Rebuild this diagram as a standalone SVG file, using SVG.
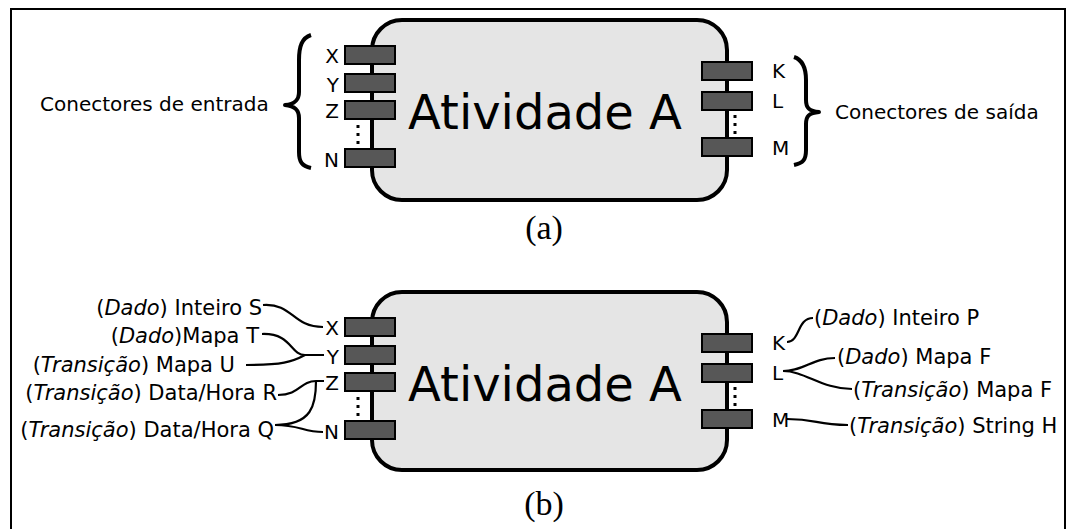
<svg xmlns="http://www.w3.org/2000/svg" width="1068" height="529" viewBox="0 0 1068 529">
<defs>
<style>
.frame{fill:#fff;stroke:#000;stroke-width:2}
.box{fill:#e5e5e5;stroke:#000;stroke-width:4}
.port{fill:#575757;stroke:#000;stroke-width:2}
.dots{stroke:#000;stroke-width:3;stroke-dasharray:3 5;fill:none}
.brace{fill:none;stroke:#000;stroke-width:4;stroke-linejoin:round}
.wire{fill:none;stroke:#000;stroke-width:2.2}
.t{font-family:"DejaVu Sans",Verdana,sans-serif;font-size:20px;fill:#000}
.l{font-family:"DejaVu Sans",Verdana,sans-serif;font-size:21px;fill:#000}
.big{font-family:"DejaVu Sans",Verdana,sans-serif;font-size:48px;fill:#000}
.cap{font-family:"Liberation Serif","Times New Roman",serif;font-size:34px;fill:#000}
.i{font-style:italic}
</style>
</defs>
<rect class="frame" x="11" y="9" width="1054" height="540"/>

<g id="activity-a">
<rect class="box" x="372" y="20" width="355" height="180" rx="30"/>
<text class="big" x="545" y="129" text-anchor="middle">Atividade A</text>
<line class="dots" x1="358" y1="125" x2="358" y2="147"/>
<line class="dots" x1="735" y1="115" x2="735" y2="137"/>
<g id="ports-a">
<rect class="port" x="345" y="46" width="50" height="18"/>
<rect class="port" x="345" y="74" width="50" height="18"/>
<rect class="port" x="345" y="101" width="50" height="18"/>
<rect class="port" x="345" y="149" width="50" height="18"/>
<rect class="port" x="702" y="62" width="50" height="18"/>
<rect class="port" x="702" y="92" width="50" height="18"/>
<rect class="port" x="702" y="138" width="50" height="18"/>
</g>
<g class="t" text-anchor="end">
<text x="339" y="63">X</text>
<text x="339" y="92">Y</text>
<text x="339" y="118">Z</text>
<text x="339" y="167">N</text>
</g>
<g class="t">
<text x="772" y="78">K</text>
<text x="772" y="108">L</text>
<text x="772" y="155">M</text>
</g>
<path class="brace" d="M311,35 C302,38 299,46 299,60 L299,92 C299,100 295,104 285,105 C295,106 299,110 299,118 L299,152 C299,162 302,166 311,168"/>
<path class="brace" d="M794,57 C803,60 806,68 806,80 L806,100 C806,108 809,111 819,112 C809,113 806,116 806,124 L806,150 C806,160 803,163 794,165"/>
<text class="t" x="40" y="111">Conectores de entrada</text>
<text class="t" x="835" y="119">Conectores de saída</text>
<text class="cap" x="544" y="239" text-anchor="middle">(a)</text>
</g>

<g id="activity-b">
<rect class="box" x="372" y="292" width="355" height="178" rx="30"/>
<text class="big" x="545" y="401" text-anchor="middle">Atividade A</text>
<line class="dots" x1="358" y1="397" x2="358" y2="419"/>
<line class="dots" x1="735" y1="387" x2="735" y2="409"/>
<g id="ports-b">
<rect class="port" x="345" y="318" width="50" height="18"/>
<rect class="port" x="345" y="346" width="50" height="18"/>
<rect class="port" x="345" y="373" width="50" height="18"/>
<rect class="port" x="345" y="421" width="50" height="18"/>
<rect class="port" x="702" y="334" width="50" height="18"/>
<rect class="port" x="702" y="364" width="50" height="18"/>
<rect class="port" x="702" y="410" width="50" height="18"/>
</g>
<g class="t" text-anchor="end">
<text x="339" y="335">X</text>
<text x="339" y="364">Y</text>
<text x="339" y="390">Z</text>
<text x="339" y="439">N</text>
</g>
<g class="t">
<text x="772" y="350">K</text>
<text x="772" y="380">L</text>
<text x="772" y="427">M</text>
</g>
<g id="labels-left" class="l" text-anchor="end">
<text x="262" y="315">(<tspan class="i">Dado</tspan>) Inteiro S</text>
<text x="259" y="343">(<tspan class="i">Dado</tspan>)Mapa T</text>
<text x="235" y="372">(<tspan class="i">Transição</tspan>) Mapa U</text>
<text x="277" y="400">(<tspan class="i">Transição</tspan>) Data/Hora R</text>
<text x="274" y="437">(<tspan class="i">Transição</tspan>) Data/Hora Q</text>
</g>
<g id="labels-right" class="l">
<text x="814" y="325">(<tspan class="i">Dado</tspan>) Inteiro P</text>
<text x="837" y="364">(<tspan class="i">Dado</tspan>) Mapa F</text>
<text x="853" y="397">(<tspan class="i">Transição</tspan>) Mapa F</text>
<text x="849" y="433">(<tspan class="i">Transição</tspan>) String H</text>
</g>
<text class="cap" x="544" y="515" text-anchor="middle">(b)</text>
</g>

<g id="connectors">
<path class="wire" d="M263,305 C293,303 292,327 323,327"/>
<path class="wire" d="M262,334 C292,333 290,355 305,355 L324,355"/>
<path class="wire" d="M246,365 C282,365 292,362 305,355"/>
<path class="wire" d="M278,395 C300,395 300,381 316,381 L324,381"/>
<path class="wire" d="M275,425 C312,425 316,405 316,381"/>
<path class="wire" d="M275,425 C300,425 303,432 323,432"/>
<path class="wire" d="M787,342 C800,342 797,318 813,318"/>
<path class="wire" d="M783,371 C805,371 812,358 835,358"/>
<path class="wire" d="M783,371 C805,371 822,389 852,389"/>
<path class="wire" d="M787,419 C818,419 815,425 848,425"/>
</g>
</svg>
